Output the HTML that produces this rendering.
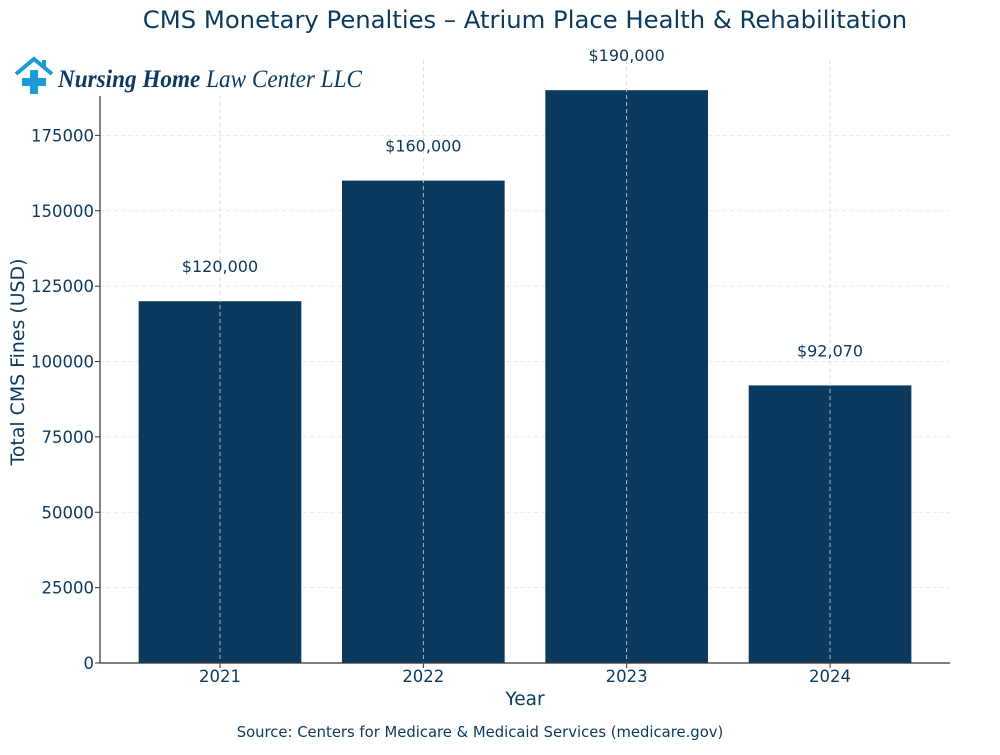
<!DOCTYPE html>
<html><head><meta charset="utf-8"><style>
body{margin:0;background:#fff;}
svg text{font-family:"DejaVu Sans","Liberation Sans",sans-serif;fill:#0b3a5e;}
</style></head><body>
<svg id="chart" width="1000" height="750" xmlns="http://www.w3.org/2000/svg">
<text x="525" y="28" text-anchor="middle" font-size="24.3">CMS Monetary Penalties – Atrium Place Health &amp; Rehabilitation</text>
<g id="grid"></g>
<g id="bars"></g>
<g id="axes"></g>
<rect x="0" y="52" width="370" height="44" fill="#fff"/>
<g>
<path d="M16 74 L34 59 L52 74" fill="none" stroke="#1a9ad6" stroke-width="4"/>
<rect x="42" y="60" width="4" height="7" fill="#1a9ad6"/>
<rect x="30" y="70" width="8" height="24" fill="#1a9ad6"/>
<rect x="22" y="78" width="24" height="8" fill="#1a9ad6"/>
<text x="58" y="87" font-size="25" font-style="italic" textLength="304" lengthAdjust="spacingAndGlyphs" style="font-family:'Liberation Serif',serif;fill:#0b3a5e"><tspan font-weight="bold">Nursing Home</tspan> Law Center LLC</text>
</g>
<text x="525" y="705" text-anchor="middle" font-size="18.5">Year</text>
<text transform="translate(24,362) rotate(-90)" text-anchor="middle" font-size="18.9">Total CMS Fines (USD)</text>
<text x="480" y="737" text-anchor="middle" font-size="14.8">Source: Centers for Medicare &amp; Medicaid Services (medicare.gov)</text>
</svg>
<script>
const categories=["2021","2022","2023","2024"];
const values=[120000,160000,190000,92070];
const valueLabels=["$120,000","$160,000","$190,000","$92,070"];
const yTicks=[0,25000,50000,75000,100000,125000,150000,175000];
const NS="http://www.w3.org/2000/svg";
const L=100,R=950,T=60,B=663,yMax=200000;
const x=i=>L+(i+0.59)/4.18*(R-L);
const step=(R-L)/4.18, bw=step*0.8;
const y=v=>B-v/yMax*(B-T);
function mk(tag,attrs,parent){const e=document.createElementNS(NS,tag);for(const k in attrs)e.setAttribute(k,attrs[k]);parent.appendChild(e);return e;}
const grid=document.getElementById('grid'),bars=document.getElementById('bars'),axes=document.getElementById('axes');
yTicks.forEach(t=>{
 if(t>0){const g=mk('line',{x1:L,x2:R,y1:y(t),y2:y(t),stroke:'#e3e3e3','stroke-dasharray':'4,3','stroke-width':0.8},grid);
 
 }
 const tk=mk('line',{x1:L-5,x2:L,y1:y(t),y2:y(t),stroke:'#333'},axes);
 
 
 const lb=mk('text',{x:L-6,y:y(t)+6,'text-anchor':'end','font-size':16.5},axes);
 lb.textContent=t;
 
 
});
categories.forEach((c,i)=>{
 const b=mk('rect',{x:x(i)-bw/2,y:y(values[i]),width:bw,height:B-y(values[i]),fill:'#0b3a5e'},bars);
 
 
 const gl=mk('line',{x1:x(i),x2:x(i),y1:T,y2:B,stroke:'#cfd6dc','stroke-dasharray':'4,3','stroke-width':0.8},bars);
 
 
 const vl=mk('text',{x:x(i),y:y(values[i])-29,'text-anchor':'middle','font-size':16},bars);
 vl.textContent=valueLabels[i];
 
 
 const tk=mk('line',{x1:x(i),x2:x(i),y1:B,y2:B+5,stroke:'#333'},axes);
 
 
 const xl=mk('text',{x:x(i),y:B+19,'text-anchor':'middle','font-size':16.5},axes);
 xl.textContent=c;
 
 
});
const ls=mk('line',{x1:L,x2:L,y1:T,y2:B,stroke:'#333','stroke-width':1.2},axes);


const bs=mk('line',{x1:L,x2:R,y1:B,y2:B,stroke:'#333','stroke-width':1.2},axes);


</script>
</body></html>
